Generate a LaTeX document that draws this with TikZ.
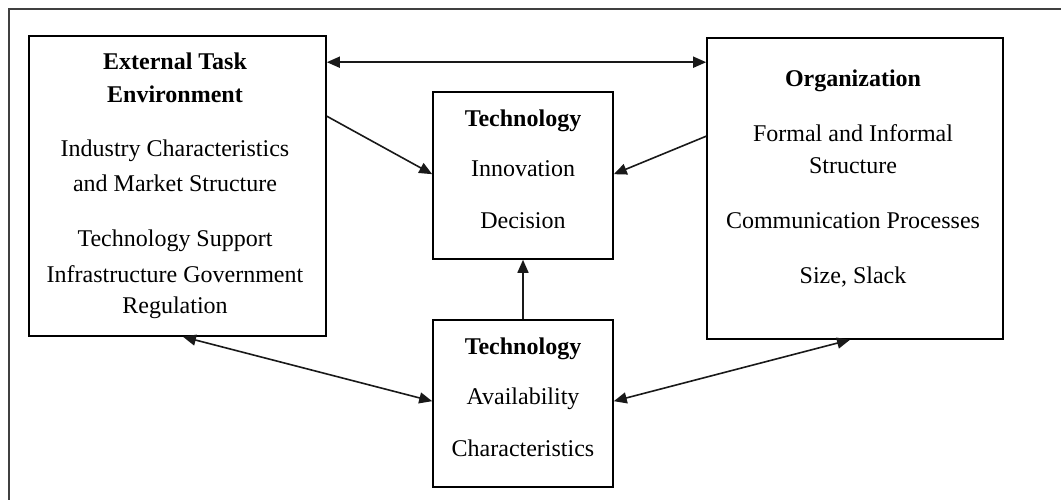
\documentclass[tikz,border=0pt]{standalone}
\usepackage{fontspec}
\setmainfont{Liberation Serif}
\usetikzlibrary{arrows.meta,calc}
\tikzset{
  box/.style={draw=black, line width=1.6pt, inner sep=0pt, fill=none},
  txt/.style={anchor=base, inner sep=0pt, font=\fontsize{24}{29}\selectfont},
  btxt/.style={txt, font=\fontsize{24}{29}\selectfont\bfseries},
  conn/.style={line width=1.6pt, draw=black!90},
  tip/.style={-{Triangle[length=13pt,width=11pt]}},
  dtip/.style={{Triangle[length=13pt,width=11pt]}-{Triangle[length=13pt,width=11pt]}},
  frame/.style={line width=2pt, draw=black!75}
}
\begin{document}
\begin{tikzpicture}[x=1pt,y=-1pt]
\useasboundingbox (0,0) rectangle (1061,500);
\fill[white] (0,0) rectangle (1061,500);
\draw[frame] (9,500) -- (9,9) -- (1061,9);

% boxes
\node[box, minimum width=297pt, minimum height=300pt] (ext) at (177.5,186) {};
\node[box, minimum width=180pt, minimum height=167pt] (tech1) at (523,175.5) {};
\node[box, minimum width=180pt, minimum height=167pt] (tech2) at (523,403.5) {};
\node[box, minimum width=296pt, minimum height=301pt] (org) at (855,188.5) {};

% left box text
\node[btxt] (e1) at (175,70) {External Task};
\node[btxt] (e2) at (175,103) {Environment};
\node[txt] (e3) at (175,157) {Industry Characteristics};
\node[txt] (e4) at (175,192) {and Market Structure};
\node[txt] (e5) at (175,247) {Technology Support};
\node[txt] (e6) at (175,282) {Infrastructure Government};
\node[txt] (e7) at (175,313) {Regulation};

% middle top text
\node[btxt] (t1) at (523,127) {Technology};
\node[txt] (t2) at (523,177) {Innovation};
\node[txt] (t3) at (523,229) {Decision};

% middle bottom text
\node[btxt] (a1) at (523,354) {Technology};
\node[txt] (a2) at (523,404) {Availability};
\node[txt] (a3) at (523,456) {Characteristics};

% right box text
\node[btxt] (o1) at (853,87) {Organization};
\node[txt] (o2) at (853,142) {Formal and Informal};
\node[txt] (o3) at (853,174) {Structure};
\node[txt] (o4) at (853,229) {Communication Processes};
\node[txt] (o5) at (853,283) {Size, Slack};

% connectors
\draw[conn, dtip] ($(ext.north east)+(0,27)$) -- ($(org.north west)+(0,25)$);
\draw[conn, tip] ($(ext.north east)+(0,81)$) -- ($(tech1.north west)+(0,83)$);
\draw[conn, tip] ($(org.north west)+(0,99)$) -- ($(tech1.north east)+(0,83)$);
\draw[conn, tip] (tech2.north) -- (tech1.south);
\draw[conn, dtip] ($(ext.south)+(5.5,0)$) -- ($(tech2.north west)+(0,82)$);
\draw[conn, dtip] ($(tech2.north east)+(0,82)$) -- ($(org.south)+(-5,0)$);
\end{tikzpicture}
\end{document}
